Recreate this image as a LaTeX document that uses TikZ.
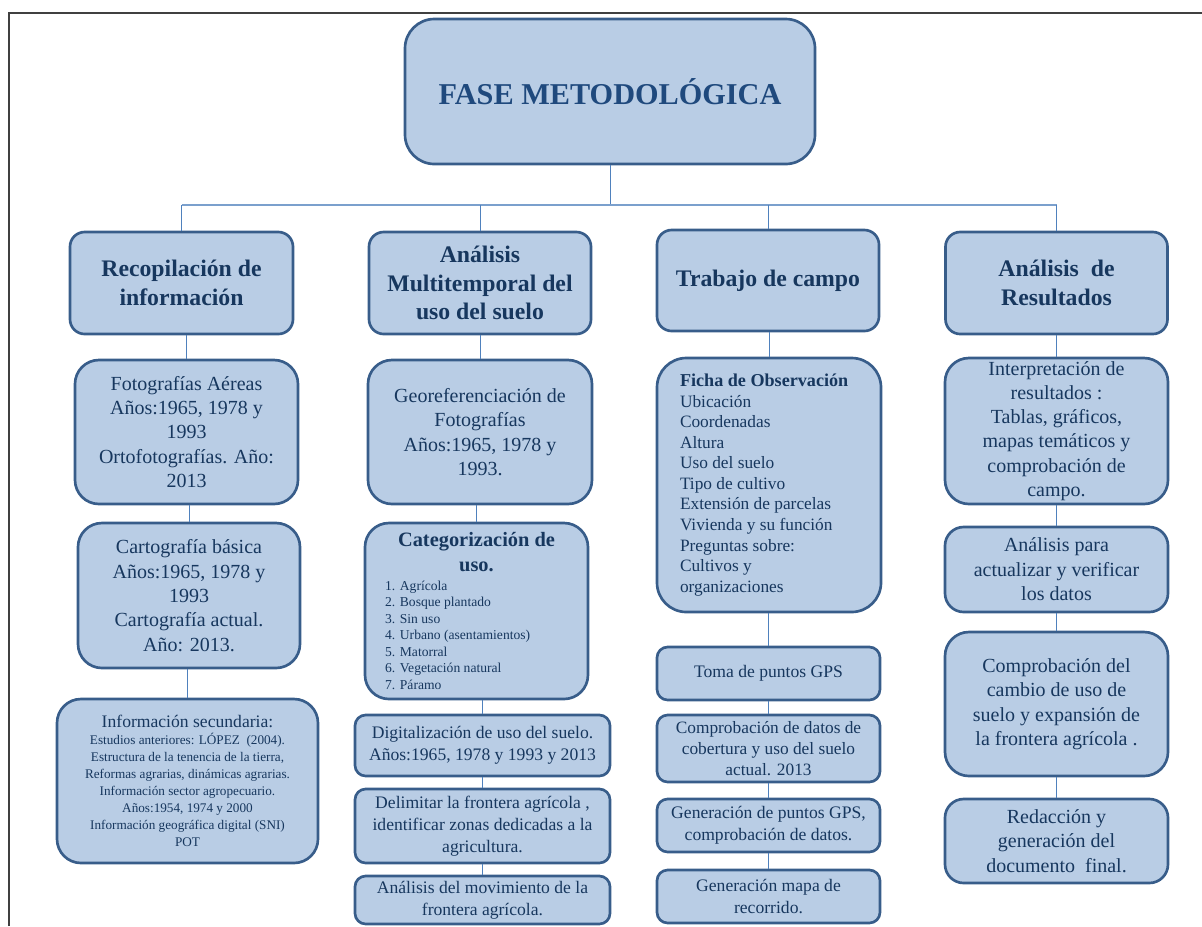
\documentclass[tikz,border=0pt]{standalone}
\usepackage{fontspec}
\setmainfont{Liberation Serif}
\usepackage{xcolor}
\usepackage{tikz}
\usetikzlibrary{positioning}
\usetikzlibrary{calc}

\definecolor{boxfill}{RGB}{185,205,229}
\definecolor{boxline}{RGB}{56,93,138}
\definecolor{linkblue}{RGB}{79,129,189}
\definecolor{textblue}{RGB}{23,55,94}
\definecolor{titleblue}{RGB}{31,73,125}

\tikzset{
  box/.style={draw=boxline, fill=boxfill, line width=2pt, text=textblue, align=center, inner sep=1pt},
  boxsize/.style 2 args={minimum width=#1*0.75pt, minimum height=#2*0.75pt},
  titlebox/.style={rounded corners=22pt, text=titleblue, font=\bfseries\fontsize{22.7}{27}\selectfont},
  head/.style={rounded corners=11pt, font=\bfseries\fontsize{17.8}{21.5}\selectfont},
  big/.style={rounded corners=18pt, font=\fontsize{15}{18.3}\selectfont},
  small/.style={rounded corners=8pt, font=\fontsize{13.2}{16.5}\selectfont},
  link/.style={draw=linkblue, line width=0.7pt},
  busline/.style={draw=linkblue!75, line width=1.6pt},
  frame/.style={draw=black!75, line width=1.2pt}
}

\begin{document}
\begin{tikzpicture}[x=0.75pt, y=-0.75pt]
          \useasboundingbox (0,0) rectangle (1202,926);
          \draw[frame] (9,926) -- (9,13) -- (1202,13);

          \node[box, titlebox, boxsize={410}{145}] (fase) at (610,91.5) {FASE METODOLÓGICA};

          \node[box, head, boxsize={223}{102}] (rec) at (181.5,283) {Recopilación de\\información};
          \node[box, head, boxsize={222}{102}] (mul) at (480,283) {Análisis\\Multitemporal del\\uso del suelo};
          \node[box, head, boxsize={222}{101}] (tra) at (768,280.5) {Trabajo de campo};
          \node[box, head, boxsize={222}{102}] (res) at (1056.5,283) {Análisis\ \ de\\Resultados};

          \coordinate (bus) at (610,205);
          \draw[link] (fase.south) -- (bus);
          \draw[busline] (bus -| rec.north) -- (bus -| res.north);
          \draw[link] (bus -| rec.north) -- (rec.north);
          \draw[link] (bus -| mul.north) -- (mul.north);
          \draw[link] (bus -| tra.north) -- (tra.north);
          \draw[link] (bus -| res.north) -- (res.north);

          \node[box, big, boxsize={223}{144}] (foto) at (186.5,432) {Fotografías Aéreas\\Años:1965, 1978 y\\1993\\Ortofotografías. Año:\\2013};
          \node[box, big, boxsize={222}{145}] (carto) at (189,595.5) {Cartografía básica\\Años:1965, 1978 y\\1993\\Cartografía actual.\\Año: 2013.};
          \node[box, big, boxsize={261}{164}] (info) at (187.5,781) {\parbox{190pt}{\centering\fontsize{13.2}{15}\selectfont Información secundaria:\\\fontsize{9.9}{12.75}\selectfont Estudios anteriores: LÓPEZ\ \ (2004).\\Estructura de la tenencia de la tierra,\\Reformas agrarias, dinámicas agrarias.\\Información sector agropecuario.\\Años:1954, 1974 y 2000\\Información geográfica digital (SNI)\\POT\par}};

          \node[box, big, boxsize={224}{144}] (geo) at (480,432) {Georeferenciación de\\Fotografías\\Años:1965, 1978 y\\1993.};
          \node[box, big, boxsize={223}{176}] (cat) at (476.5,611) {\parbox{150pt}{\centering\bfseries\fontsize{15.3}{18.8}\selectfont Categorización de\\uso.\par\vspace{1.5pt}
            \raggedright\mdseries\fontsize{10.2}{12.4}\selectfont\leftskip=6.5pt 1. Agrícola\\2. Bosque plantado\\3. Sin uso\\4. Urbano (asentamientos)\\5. Matorral\\6. Vegetación natural\\7. Páramo\par}};
          \node[box, small, boxsize={255}{61}] (dig) at (482.5,745.5) {Digitalización de uso del suelo.\\Años:1965, 1978 y 1993 y 2013};
          \node[box, small, boxsize={255}{74}] (deli) at (482.5,826) {Delimitar la frontera agrícola ,\\identificar zonas dedicadas a la\\agricultura.};
          \node[box, small, boxsize={255}{48}] (mov) at (482.5,900) {Análisis del movimiento de la\\frontera agrícola.};

          \node[box, big, rounded corners=22pt, boxsize={224}{254}] (ficha) at (769,485) {\parbox{133.5pt}{\raggedright\fontsize{13}{15.4}\selectfont{\bfseries\fontsize{13.6}{15.4}\selectfont Ficha de Observación}\\Ubicación\\Coordenadas\\Altura\\Uso del suelo\\Tipo de cultivo\\Extensión de parcelas\\Vivienda y su función\\Preguntas sobre:\\Cultivos y\\organizaciones\par}};
          \node[box, small, boxsize={223}{53}] (toma) at (768.5,673.5) {Toma de puntos GPS};
          \node[box, small, font=\fontsize{13}{15.8}\selectfont, boxsize={223}{67}] (compd) at (768.5,748.5) {Comprobación de datos de\\cobertura y uso del suelo\\actual. 2013};
          \node[box, small, boxsize={223}{53}] (genp) at (768.5,825.5) {Generación de puntos GPS,\\comprobación de datos.};
          \node[box, small, boxsize={223}{53}] (genm) at (768.5,896.5) {Generación mapa de\\recorrido.};

          \node[box, big, font=\fontsize{15}{18.2}\selectfont, boxsize={223}{146}] (interp) at (1056.5,431) {Interpretación de\\resultados :\\Tablas, gráficos,\\mapas temáticos y\\comprobación de\\campo.};
          \node[box, big, rounded corners=14pt, boxsize={223}{85}] (anal) at (1056.5,569.5) {Análisis para\\actualizar y verificar\\los datos};
          \node[box, big, boxsize={223}{144}] (compc) at (1056.5,704) {Comprobación del\\cambio de uso de\\suelo y expansión de\\la frontera agrícola .};
          \node[box, big, rounded corners=14pt, boxsize={223}{84}] (reda) at (1056.5,841) {Redacción y\\generación del\\documento\ \ final.};

          \draw[link] (foto.north) -- (foto.north |- rec.south);
          \draw[link] (carto.north) -- (carto.north |- foto.south);
          \draw[link] (info.north) -- (info.north |- carto.south);

          \draw[link] (geo.north) -- (geo.north |- mul.south);
          \draw[link] (cat.north) -- (cat.north |- geo.south);
          \draw[link] (dig.north) -- (dig.north |- cat.south);
          \draw[link] (deli.north) -- (deli.north |- dig.south);
          \draw[link] (mov.north) -- (mov.north |- deli.south);

          \draw[link] (ficha.north) -- (ficha.north |- tra.south);
          \draw[link] (toma.north) -- (toma.north |- ficha.south);
          \draw[link] (compd.north) -- (compd.north |- toma.south);
          \draw[link] (genp.north) -- (genp.north |- compd.south);
          \draw[link] (genm.north) -- (genm.north |- genp.south);

          \draw[link] (interp.north) -- (interp.north |- res.south);
          \draw[link] (anal.north) -- (anal.north |- interp.south);
          \draw[link] (compc.north) -- (compc.north |- anal.south);
          \draw[link] (reda.north) -- (reda.north |- compc.south);

\end{tikzpicture}
\end{document}
